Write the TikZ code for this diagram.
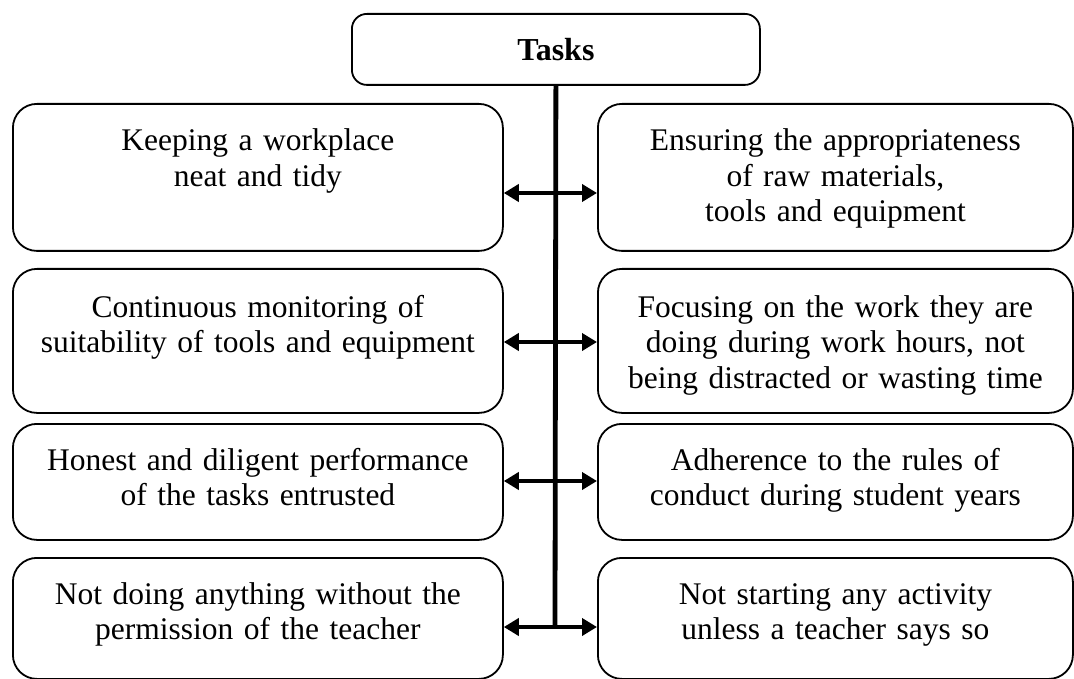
\documentclass[tikz,border=0pt]{standalone}
\usepackage{fontspec}
\setmainfont{Liberation Serif}
\usetikzlibrary{arrows.meta}
\begin{document}
\begin{tikzpicture}[x=1pt,y=-1pt,
  box/.style={draw, line width=1.8pt, rounded corners=24pt, inner sep=0pt, anchor=north west},
  txt/.style={font=\fontsize{31.5}{35.5}\selectfont, align=center, inner sep=0pt, anchor=base},
  spine/.style={line width=4.8pt},
  link/.style={line width=4.8pt, {Triangle[length=15pt,width=17pt]}-{Triangle[length=15pt,width=17pt]}}]
\useasboundingbox (0,0) rectangle (1074,679);
% title
\node[box, rounded corners=15pt, minimum width=408pt, minimum height=71pt] (T) at (351,13) {};
\node[font=\fontsize{32}{36}\selectfont\bfseries, inner sep=0pt] (Tt) at (T.center) {Tasks};
% left boxes
\node[box, minimum width=490pt, minimum height=147pt] (L1) at (12,103) {};
\node[box, minimum width=490pt, minimum height=144pt] (L2) at (12,268) {};
\node[box, minimum width=490pt, minimum height=116pt] (L3) at (12,423) {};
\node[box, minimum width=490pt, minimum height=121pt] (L4) at (12,557) {};
% right boxes
\node[box, minimum width=475pt, minimum height=147pt] (R1) at (597,103) {};
\node[box, minimum width=475pt, minimum height=144pt] (R2) at (597,268) {};
\node[box, minimum width=475pt, minimum height=116pt] (R3) at (597,423) {};
\node[box, minimum width=475pt, minimum height=121pt] (R4) at (597,557) {};
% texts
\node[txt, text width=486pt] (L1t) at ([yshift=-48pt]L1.north) {Keeping a workplace\\neat and tidy};
\node[txt, text width=486pt] (L2t) at ([yshift=-49pt]L2.north) {Continuous monitoring of\\suitability of tools and equipment};
\node[txt, text width=486pt] (L3t) at ([yshift=-47pt]L3.north) {Honest and diligent performance\\of the tasks entrusted};
\node[txt, text width=486pt] (L4t) at ([yshift=-47pt]L4.north) {Not doing anything without the\\permission of the teacher};
\node[txt, text width=471pt] (R1t) at ([yshift=-48pt]R1.north) {Ensuring the appropriateness\\of raw materials,\\tools and equipment};
\node[txt, text width=471pt] (R2t) at ([yshift=-49pt]R2.north) {Focusing on the work they are\\doing during work hours, not\\being distracted or wasting time};
\node[txt, text width=471pt] (R3t) at ([yshift=-47pt]R3.north) {Adherence to the rules of\\conduct during student years};
\node[txt, text width=471pt] (R4t) at ([yshift=-47pt]R4.north) {Not starting any activity\\unless a teacher says so};
% spine
\coordinate (s1) at (555,193);
\coordinate (s2) at (555,342);
\coordinate (s3) at (555,481);
\coordinate (s4) at (555,627);
\draw[spine] (T.south) -- (s4);
\draw[link] (L1.east |- s1) -- (R1.west |- s1);
\draw[link] (L2.east |- s2) -- (R2.west |- s2);
\draw[link] (L3.east |- s3) -- (R3.west |- s3);
\draw[link] (L4.east |- s4) -- (R4.west |- s4);
\end{tikzpicture}
\end{document}
